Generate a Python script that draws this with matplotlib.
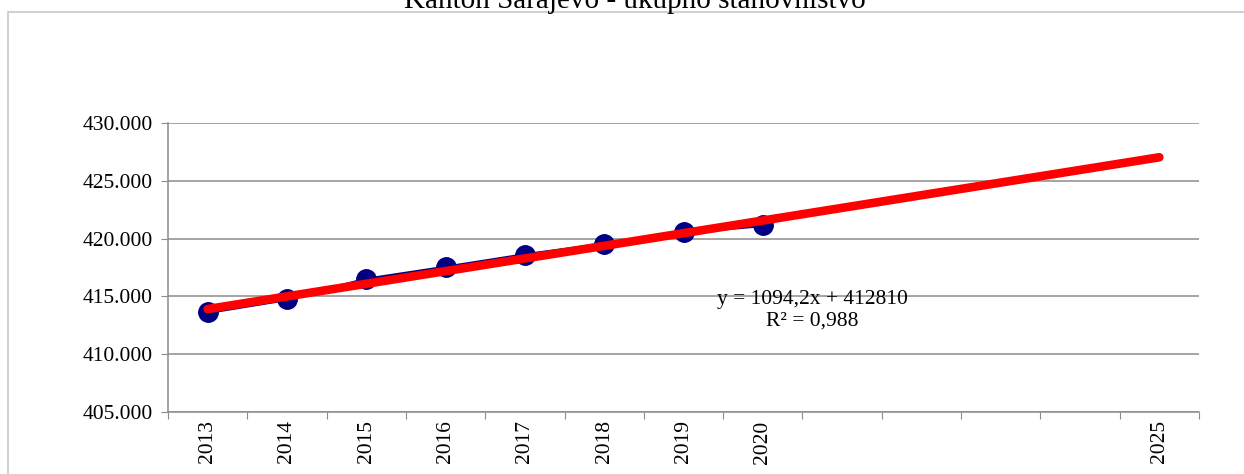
import numpy as np
import matplotlib.pyplot as plt
from matplotlib.patches import Rectangle
from matplotlib.ticker import FuncFormatter, FixedLocator

# data
years = ['2013', '2014', '2015', '2016', '2017', '2018', '2019', '2020', '', '', '', '', '2025']
population = [413620, 414740, 416470, 417510, 418590, 419500, 420540, 421140]
trend_coef = [1094.2, 412810]   # slope, intercept (x = 1 for 2013)
trend_x = [1, 13]
eq_text = "y = 1094,2x + 412810\nR² = 0,988"
title = "Kanton Sarajevo - ukupno stanovništvo"

plt.rcParams['font.family'] = ['Liberation Serif', 'DejaVu Serif']

fig = plt.figure(figsize=(12.44, 4.74), dpi=100)
ax = fig.add_axes([168/1244, 1-412/474, (1199-168)/1244, (412-123)/474])

# outer chart border
fig.patches.append(Rectangle((8/1244, -0.02), 1.1, 1-12/474+0.02, transform=fig.transFigure,
                             fill=False, edgecolor='#c8c8c8', linewidth=1.2))

fig.text(635/1244, 1-8/474, title, ha='center', va='baseline', fontsize=21)

xs = np.arange(len(population))
ax.plot(xs, population, color='#000080', linewidth=2.5, marker='o', markersize=14,
        markerfacecolor='#000080', markeredgecolor='#000080', zorder=3)

# linear trend line, 2013 - 2025
tx = np.array(trend_x)
ty = trend_coef[0]*tx + trend_coef[1]
ax.plot(tx-1, ty, color='#ff0000', linewidth=6.2, solid_capstyle='round', zorder=4)

ax.annotate(eq_text, xy=(812, 474-310), xycoords='figure pixels', ha='center', va='center',
            fontsize=15.5, linespacing=1.2, zorder=5)

ax.set_xlim(-0.5, len(years)-0.5)
ax.set_ylim(405000, 430000)
ax.set_yticks(np.arange(405000, 430001, 5000))
ax.yaxis.set_major_formatter(FuncFormatter(lambda v, p: f"{int(v):,}".replace(',', '.')))
ax.yaxis.grid(True, color='#8c8c8c', linewidth=1.1)
ax.set_axisbelow(True)

# ticks between categories, labels at category centres
ax.xaxis.set_major_locator(FixedLocator(np.arange(-0.5, len(years), 1.0)))
ax.set_xticklabels([])
ax.xaxis.set_minor_locator(FixedLocator(np.arange(len(years))))
ax.set_xticklabels(years, minor=True, rotation=90)
ax.tick_params(axis='x', which='minor', length=0, pad=6, labelsize=15.5)
ax.tick_params(axis='x', which='major', length=5, color='#8c8c8c', direction='out')
ax.tick_params(axis='y', length=5, color='#8c8c8c', labelsize=15.5, pad=6)

for s in ['top', 'right']:
    ax.spines[s].set_visible(False)
for s in ['left', 'bottom']:
    ax.spines[s].set_color('#8c8c8c')
    ax.spines[s].set_linewidth(1.1)

fig.savefig('out.png', dpi=100)
